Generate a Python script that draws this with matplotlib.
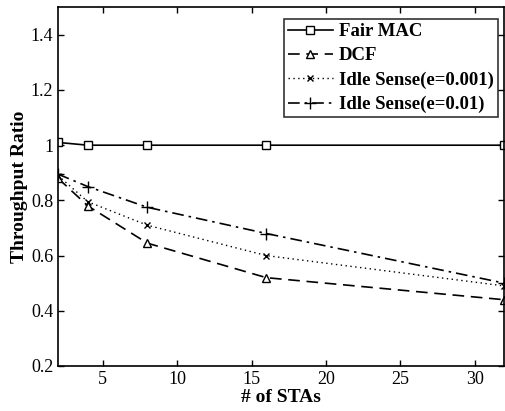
import numpy as np
from matplotlib import pyplot as plt

stas = [2, 4, 8, 16, 32]
fair_mac = [1.01, 1.0, 1.0, 1.0, 1.0]
dcf = [0.88, 0.78, 0.645, 0.52, 0.44]
idle_001 = [0.89, 0.795, 0.71, 0.60, 0.49]
idle_01 = [0.895, 0.85, 0.775, 0.68, 0.50]

plt.rcParams['font.family'] = ['Liberation Serif', 'DejaVu Serif']

fig = plt.figure(figsize=(5.05, 4.11), dpi=100)
ax = fig.add_axes([0.115, 0.1095, 0.884, 0.873])

ax.plot(stas, fair_mac, color='black', linestyle='-', marker='s', markersize=6,
        markerfacecolor='white', linewidth=1.2, label='Fair MAC')
ax.plot(stas, dcf, color='black', linestyle=(0, (7, 4)), marker='^', markersize=6,
        markerfacecolor='white', linewidth=1.2, label='DCF')
ax.plot(stas, idle_001, color='black', linestyle=(0, (1, 2.5)), marker='x', markersize=5,
        linewidth=1.0, label='Idle Sense(e=0.001)')
ax.plot(stas, idle_01, color='black', linestyle=(0, (7, 3, 1.5, 3)), marker='+', markersize=8,
        linewidth=1.2, label='Idle Sense(e=0.01)')

ax.set_xlim(2, 32)
ax.set_ylim(0.2, 1.5)
ax.set_xticks([5, 10, 15, 20, 25, 30])
ax.set_yticks([0.2, 0.4, 0.6, 0.8, 1.0, 1.2, 1.4])
ax.set_yticklabels(['0.2', '0.4', '0.6', '0.8', '1', '1.2', '1.4'])
ax.tick_params(direction='in', top=True, right=True, labelsize=13, length=4, width=1)
for s in ax.spines.values():
    s.set_linewidth(1.2)

ax.set_xlabel('# of STAs', fontsize=14, fontweight='bold', labelpad=1)
ax.set_ylabel('Throughput Ratio', fontsize=14, fontweight='bold', labelpad=2)

leg = ax.legend(loc='upper right', bbox_to_anchor=(0.993, 0.978), fontsize=13.5,
                frameon=True, fancybox=False, edgecolor='black', handlelength=2.4,
                borderpad=0.22, labelspacing=0.38, handletextpad=0.3, borderaxespad=0.2)
leg.get_frame().set_linewidth(1.2)
for t in leg.get_texts():
    t.set_fontweight('bold')

fig.savefig('out.png', dpi=100)
